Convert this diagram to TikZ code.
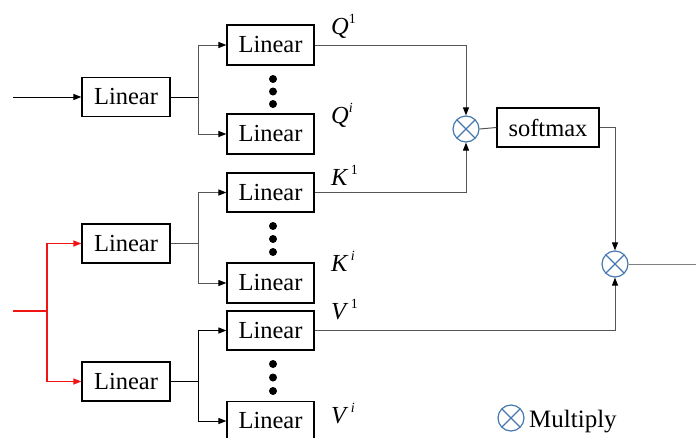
\documentclass[tikz,border=0pt]{standalone}
\usepackage{fontspec}
\setmainfont{Liberation Serif}
\usetikzlibrary{arrows.meta}
\definecolor{mulblue}{RGB}{70,120,176}
\definecolor{wiregray}{RGB}{85,85,85}
\definecolor{feedred}{RGB}{240,20,20}
\begin{document}
\begin{tikzpicture}[x=1pt,y=-1pt,
  box/.style={draw=black, line width=1.2pt, minimum width=88pt, minimum height=39pt,
    inner sep=0pt, font=\fontsize{24.5}{28}\selectfont},
  wire/.style={draw=wiregray, line width=1pt},
  blackwire/.style={draw=black, line width=1pt},
  redwire/.style={color=feedred, line width=1.3pt},
  tip/.style={-{Triangle[length=8pt,width=6pt]}},
  ktip/.style={-{Triangle[length=8pt,width=6pt,color=black]}},
  mult/.style={circle, draw=mulblue, line width=1.2pt, minimum size=26pt, inner sep=0pt,
    path picture={\draw[mulblue,line width=1.2pt]
      (path picture bounding box.north west) -- (path picture bounding box.south east)
      (path picture bounding box.north east) -- (path picture bounding box.south west);}},
  lbl/.style={anchor=base west, inner sep=0pt, font=\fontsize{24.5}{28}\selectfont},
  dot/.style={fill=black}
]
\useasboundingbox (0,0) rectangle (696,437);

\newcommand{\sym}[2]{\textit{#1}\raisebox{0.42em}{\fontsize{14}{14}\selectfont #2}}

% input projections
\node[box] (L1) at (126,97) {Linear};
\node[box] (L2) at (126,243.5) {Linear};
\node[box] (L3) at (126,381.5) {Linear};

% per-head projections
\node[box, minimum width=87pt, minimum height=40pt] (Q1) at (270.5,45) {Linear};
\node[box, minimum width=87pt, minimum height=40pt] (Qi) at (270.5,134) {Linear};
\node[box, minimum width=87pt] (K1) at (270.5,192.5) {Linear};
\node[box, minimum width=87pt, minimum height=40pt] (Ki) at (270.5,283) {Linear};
\node[box, minimum width=87pt] (V1) at (270.5,330.5) {Linear};
\node[box, minimum width=87pt] (Vi) at (270.5,421) {Linear};

% vertical ellipses between heads
\foreach \y in {79,91.5,104, 226,239,252, 364,377.5,391}
  \fill[dot] (273,\y) circle (4pt);

% attention part
\node[mult] (m1) at (466,129) {};
\node[box, minimum width=102pt] (sm) at (548,127.5) {softmax};
\node[mult] (m2) at (615,264) {};

% labels
\node[lbl] (lq1) at (331,34) {\sym{Q}{1}};
\node[lbl] (lqi) at (331,123) {\sym{Q}{\textit{i}}};
\node[lbl] (lk1) at (331,185) {\sym{K}{\,1}};
\node[lbl] (lki) at (331,271) {\sym{K}{\,\textit{i}}};
\node[lbl] (lv1) at (331,319) {\sym{V}{\,1}};
\node[lbl] (lvi) at (331,423) {\sym{V}{\,\textit{i}}};

% legend
\node[mult] (leg) at (511,418) {};
\node[lbl, anchor=base west, font=\fontsize{25}{28}\selectfont] (legt) at (529,427) {Multiply};

% coordinates
\coordinate (in1) at (13,97);
\coordinate (in2) at (13,311);
\coordinate (s2) at (47,311);
\coordinate (b1) at (198,97);
\coordinate (b2) at (198,243.5);
\coordinate (b3) at (198,381.5);
\coordinate (out) at (696,264);

% wiring
\draw[blackwire, tip] (in1) -- (L1.west);
\draw[blackwire] (L1.east) -- (b1);
\draw[wire, ktip] (b1) |- (Q1.west);
\draw[wire, ktip] (b1) |- (Qi.west);

\draw[redwire] (in2) -- (s2);
\draw[redwire, tip] (s2) |- (L2.west);
\draw[redwire, tip] (s2) |- (L3.west);

\draw[wire] (L2.east) -- (b2);
\draw[wire, ktip] (b2) |- (K1.west);
\draw[wire, ktip] (b2) |- (Ki.west);

\draw[blackwire] (L3.east) -- (b3);
\draw[blackwire, tip] (b3) |- (V1.west);
\draw[blackwire, tip] (b3) |- (Vi.west);

\draw[wire, ktip] (Q1.east) -| (m1.north);
\draw[wire, ktip] (K1.east) -| (m1.south);
\draw[wire] (m1.east) -- (sm.west);
\draw[wire, ktip] (sm.east) -| (m2.north);
\draw[wire, ktip] (V1.east) -| (m2.south);
\draw[wire, draw=gray] (m2.east) -- (out);
\end{tikzpicture}
\end{document}
